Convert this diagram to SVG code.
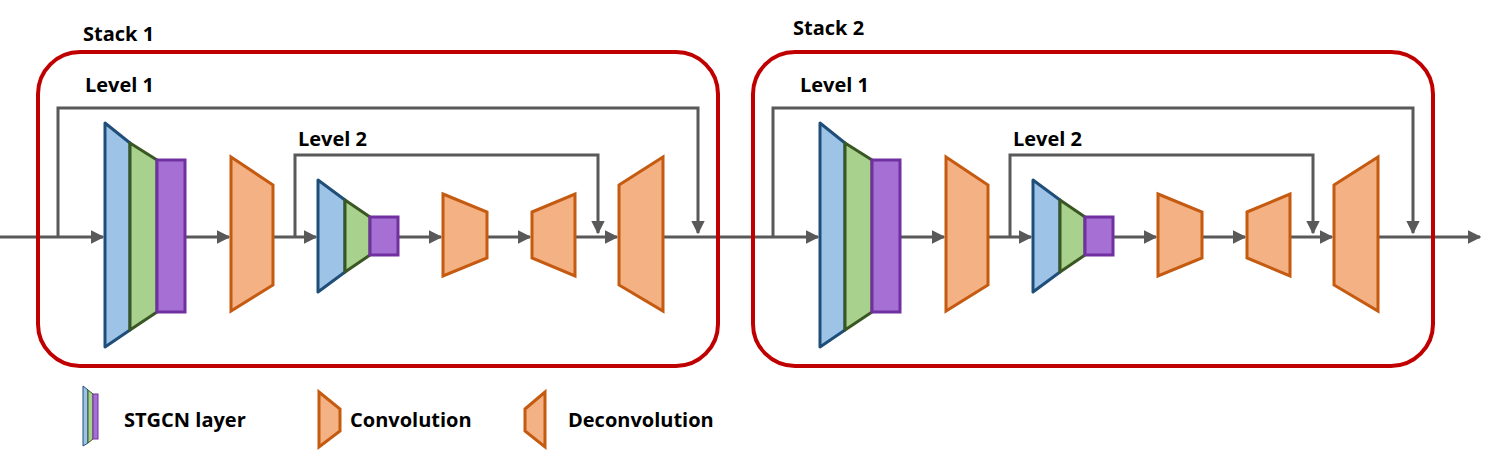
<svg xmlns="http://www.w3.org/2000/svg" width="1496" height="455" viewBox="0 0 1496 455">
<style>
.t{font-family:"Open Sans","Liberation Sans",sans-serif;font-weight:bold;font-size:20px;fill:#000}
.box{fill:none;stroke:#C00000;stroke-width:4}
.ln{fill:none;stroke:#595959;stroke-width:3}
.b{fill:#9DC3E6;stroke:#1F4E79;stroke-width:3;stroke-linejoin:round}
.g{fill:#A9D18E;stroke:#385723;stroke-width:3;stroke-linejoin:round}
.p{fill:#A66FD4;stroke:#7030A0;stroke-width:3}
.c{fill:#F4B183;stroke:#C55A11;stroke-width:3;stroke-linejoin:miter}
</style>
<defs>
<marker id="a" viewBox="0 0 10 10" refX="9" refY="5" markerWidth="4.5" markerHeight="4.5" orient="auto"><path d="M0,0L10,5L0,10z" fill="#595959"/></marker>
<g id="stack">
<rect class="box" x="38" y="52" width="680" height="314" rx="42"/>
<text class="t" x="85" y="92">Level 1</text>
<text class="t" x="298" y="146">Level 2</text>
</g>
</defs>
<g id="connectors">
<path class="ln" d="M0,237H103" marker-end="url(#a)"/>
<path class="ln" d="M58,237V108H698V233" marker-end="url(#a)"/>
<path class="ln" d="M185,237H229" marker-end="url(#a)"/>
<path class="ln" d="M273,237H316" marker-end="url(#a)"/>
<path class="ln" d="M295,237V155H598V233" marker-end="url(#a)"/>
<path class="ln" d="M398,237H441" marker-end="url(#a)"/>
<path class="ln" d="M487,237H530" marker-end="url(#a)"/>
<path class="ln" d="M575,237H617" marker-end="url(#a)"/>
<path class="ln" d="M663,237H818" marker-end="url(#a)"/>
<path class="ln" d="M773,237V108H1413V233" marker-end="url(#a)"/>
<path class="ln" d="M900,237H944" marker-end="url(#a)"/>
<path class="ln" d="M988,237H1031" marker-end="url(#a)"/>
<path class="ln" d="M1010,237V155H1313V233" marker-end="url(#a)"/>
<path class="ln" d="M1113,237H1156" marker-end="url(#a)"/>
<path class="ln" d="M1202,237H1245" marker-end="url(#a)"/>
<path class="ln" d="M1290,237H1332" marker-end="url(#a)"/>
<path class="ln" d="M1378,237H1480" marker-end="url(#a)"/>
</g>
<g id="stack1">
<use href="#stack"/>
<text class="t" x="83" y="41">Stack 1</text>
<g id="s1-stgcn1"><polygon class="b" points="105,123 130,143 130,330 105,347"/><polygon class="g" points="130,143 157,160 157,312 130,330"/><rect class="p" x="157" y="160" width="28" height="152"/></g>
<polygon id="s1-conv1" class="c" points="231,157 273,185 273,285 231,311"/>
<g id="s1-stgcn2"><polygon class="b" points="318,180 345,200 345,272 318,292"/><polygon class="g" points="345,200 370,217 370,255 345,272"/><rect class="p" x="370" y="217" width="28" height="38"/></g>
<polygon id="s1-conv2" class="c" points="443,194 487,212 487,258 443,276"/>
<polygon id="s1-deconv1" class="c" points="532,212 575,194 575,276 532,258"/>
<polygon id="s1-deconv2" class="c" points="619,185 663,157 663,311 619,285"/>
</g>
<g id="stack2" transform="translate(715,0)">
<use href="#stack"/>
<text class="t" x="78" y="35">Stack 2</text>
<g id="s2-stgcn1"><polygon class="b" points="105,123 130,143 130,330 105,347"/><polygon class="g" points="130,143 157,160 157,312 130,330"/><rect class="p" x="157" y="160" width="28" height="152"/></g>
<polygon id="s2-conv1" class="c" points="231,157 273,185 273,285 231,311"/>
<g id="s2-stgcn2"><polygon class="b" points="318,180 345,200 345,272 318,292"/><polygon class="g" points="345,200 370,217 370,255 345,272"/><rect class="p" x="370" y="217" width="28" height="38"/></g>
<polygon id="s2-conv2" class="c" points="443,194 487,212 487,258 443,276"/>
<polygon id="s2-deconv1" class="c" points="532,212 575,194 575,276 532,258"/>
<polygon id="s2-deconv2" class="c" points="619,185 663,157 663,311 619,285"/>
</g>
<g id="legend">
<polygon class="b" style="stroke-width:1" points="83,386 88,390 88,443 83,446"/>
<polygon class="g" style="stroke-width:1" points="88,390 93,394 93,439 88,443"/>
<rect class="p" style="stroke-width:1" x="93" y="394" width="5" height="45"/>
<text class="t" x="124" y="427">STGCN layer</text>
<polygon class="c" points="319,392 340,409 340,431 319,447"/>
<text class="t" x="350" y="427">Convolution</text>
<polygon class="c" points="525,409 545,392 545,447 525,431"/>
<text class="t" x="568" y="427">Deconvolution</text>
</g>
</svg>
